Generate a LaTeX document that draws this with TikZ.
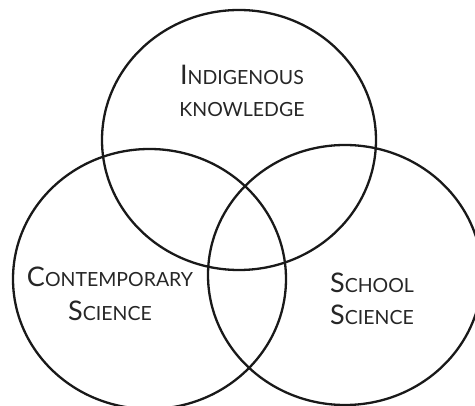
\documentclass[tikz,border=0pt]{standalone}
\usepackage{fontspec}
\setmainfont{Lato}
\usetikzlibrary{shapes.geometric}
\newcommand\capletter[1]{{\fontsize{27}{30}\selectfont #1}}
\newcommand\smallletters[1]{{\fontsize{19.5}{22}\selectfont #1}}
\begin{document}
\begin{tikzpicture}[x=1pt,y=-1pt,
  setring/.style={ellipse, draw=black!90, line width=2.3pt, inner sep=0pt, fill=none},
  label/.style={anchor=base, inner sep=0pt, text=black!85}]
\useasboundingbox (0,0) rectangle (475,406);
\clip (0,0) rectangle (475,406);
\node[setring, minimum width=274pt, minimum height=260pt] (top) at (239,140) {};
\node[setring, minimum width=273pt, minimum height=260pt] (left) at (149.5,279) {};
\node[setring, minimum width=274pt, minimum height=260pt] (right) at (345,275) {};
\node[label] (ik1) at (242,85) {\capletter{I}\smallletters{NDIGENOUS}};
\node[label] (ik2) at (242,117) {\smallletters{KNOWLEDGE}};
\node[label] (cs1) at (110,287) {\capletter{C}\smallletters{ONTEMPORARY}};
\node[label] (cs2) at (110,321) {\capletter{S}\smallletters{CIENCE}};
\node[label] (ss1) at (372,293) {\capletter{S}\smallletters{CHOOL}};
\node[label] (ss2) at (372,325) {\capletter{S}\smallletters{CIENCE}};
\end{tikzpicture}
\end{document}
